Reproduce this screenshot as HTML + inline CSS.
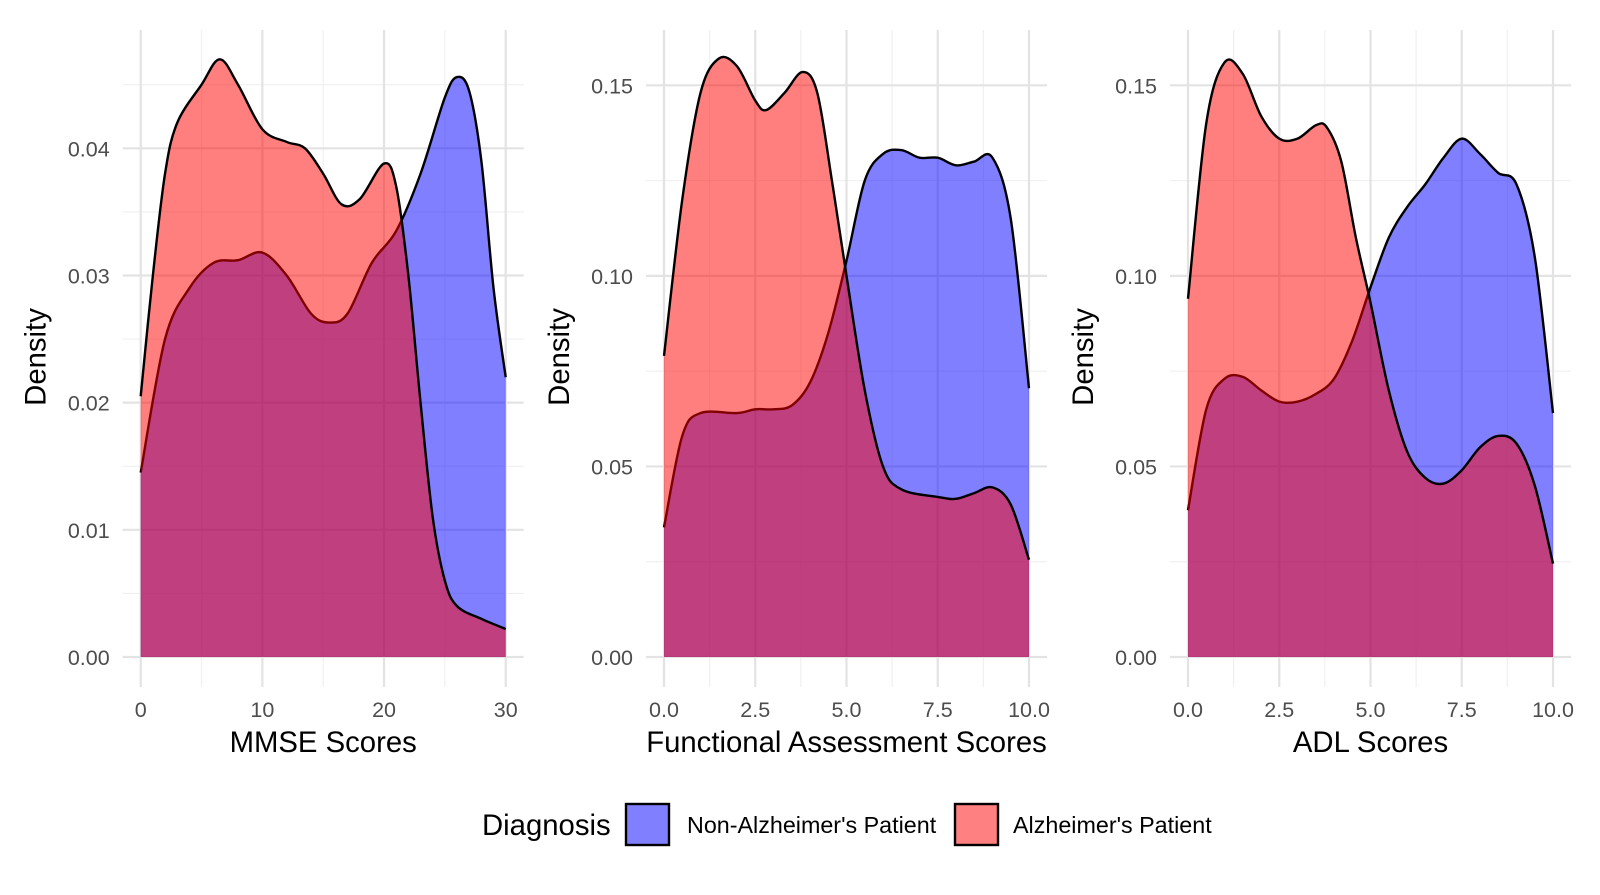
<!DOCTYPE html>
<html><head><meta charset="utf-8"><style>
html,body{margin:0;padding:0;background:#fff;}
svg text{font-family:"Liberation Sans",Arial,sans-serif;}
</style></head><body>
<svg id="chart" width="1600" height="890" xmlns="http://www.w3.org/2000/svg"></svg>
<script>
// Panel 1: MMSE
const mmseX_blue=[0,2,4,6,8,10,12,14,15.5,17,19,21,23,25,26,27,28,29,30];
const mmseY_blue=[0.0145,0.025,0.029,0.031,0.0312,0.0318,0.030,0.027,0.0263,0.027,0.031,0.0335,0.038,0.044,0.0456,0.0445,0.039,0.029,0.022];
const mmseX_red=[0,1,2,3,5,6.5,8,10,12,13.5,15,16.5,18,20,21,22,23,24,25,26,28,30];
const mmseY_red=[0.0205,0.030,0.038,0.042,0.045,0.047,0.045,0.0415,0.0405,0.040,0.038,0.0356,0.036,0.0388,0.037,0.030,0.020,0.011,0.006,0.004,0.003,0.0022];
// Panel 2: Functional Assessment
const faX_red=[0,0.5,1,1.5,2,2.5,2.8,3.3,3.8,4.2,4.6,5,5.5,6,6.5,7.5,8,8.5,9,9.5,10];
const faY_red=[0.079,0.12,0.148,0.157,0.155,0.146,0.1435,0.148,0.1535,0.148,0.125,0.10,0.07,0.05,0.044,0.042,0.0415,0.043,0.0445,0.04,0.0255];
const faX_blue=[0,0.5,1,2,2.5,3,3.5,4,4.5,5,5.5,6,6.5,7,7.5,8,8.5,9,9.5,10];
const faY_blue=[0.034,0.058,0.064,0.064,0.065,0.065,0.066,0.072,0.085,0.104,0.125,0.132,0.133,0.131,0.131,0.129,0.130,0.131,0.115,0.0705];
// Panel 3: ADL
const adlX_red=[0,0.5,1,1.5,2,2.5,3,3.5,3.8,4.2,4.6,5,5.5,6,6.5,7,7.5,8,8.5,9,9.5,10];
const adlY_red=[0.094,0.14,0.156,0.153,0.142,0.136,0.136,0.1395,0.139,0.13,0.11,0.093,0.07,0.054,0.047,0.0455,0.049,0.055,0.058,0.056,0.045,0.0245];
const adlX_blue=[0,0.5,1,1.5,2,2.5,3,3.5,4,4.5,5,5.5,6,6.5,7,7.5,8,8.5,9,9.5,10];
const adlY_blue=[0.0385,0.065,0.073,0.0735,0.07,0.067,0.067,0.069,0.073,0.083,0.097,0.11,0.118,0.124,0.131,0.136,0.132,0.127,0.124,0.105,0.064];

const mmseXTicks=[0,10,20,30], mmseYTicks=[0,0.01,0.02,0.03,0.04];
const mmseYLabels=["0.00","0.01","0.02","0.03","0.04"];
const tenXTicks=[0,2.5,5,7.5,10], tenXLabels=["0.0","2.5","5.0","7.5","10.0"];
const tenYTicks=[0,0.05,0.10,0.15], tenYLabels=["0.00","0.05","0.10","0.15"];

const NS="http://www.w3.org/2000/svg";
const svg=document.getElementById('chart');
const Y0=657;
function mk(tag,attrs,parent){const e=document.createElementNS(NS,tag);for(const k in attrs)e.setAttribute(k,attrs[k]);(parent||svg).appendChild(e);return e;}

function smooth(pts){
  let d=`M${pts[0][0]},${pts[0][1]}`;
  for(let i=0;i<pts.length-1;i++){
    const p0=pts[Math.max(0,i-1)],p1=pts[i],p2=pts[i+1],p3=pts[Math.min(pts.length-1,i+2)];
    const c1=[p1[0]+(p2[0]-p0[0])/6,p1[1]+(p2[1]-p0[1])/6];
    const c2=[p2[0]-(p3[0]-p1[0])/6,p2[1]-(p3[1]-p1[1])/6];
    d+=` C${c1[0]},${c1[1]} ${c2[0]},${c2[1]} ${p2[0]},${p2[1]}`;
  }
  return d;
}

function panel(cfg){
  const g=mk('g',{});
  
  
  const sx=v=>cfg.px0+(v-cfg.xmin)/(cfg.xmax-cfg.xmin)*(cfg.px1-cfg.px0);
  const sy=v=>Y0-v/cfg.ymaxv*(Y0-cfg.pyTop);
  const L=cfg.px0-18,R=cfg.px1+18,T=30,B=687;
  for(let i=0;i<cfg.xt.length-1;i++){const x=sx((cfg.xt[i]+cfg.xt[i+1])/2);mk('line',{x1:x,x2:x,y1:T,y2:B,stroke:'#f0f0f0','stroke-width':1.2},g);}
  const ystep=cfg.yt[1]-cfg.yt[0];
  for(let i=0;i<cfg.yt.length;i++){const v=cfg.yt[i]+ystep/2;const y=sy(v);if(y>T)mk('line',{x1:L,x2:R,y1:y,y2:y,stroke:'#f0f0f0','stroke-width':1.2},g);}
  cfg.xt.forEach(v=>{const x=sx(v);mk('line',{x1:x,x2:x,y1:T,y2:B,stroke:'#e3e3e3','stroke-width':2.2},g);});
  cfg.yt.forEach(v=>{const y=sy(v);mk('line',{x1:L,x2:R,y1:y,y2:y,stroke:'#e3e3e3','stroke-width':2.2},g);});
  cfg.xt.forEach((v,i)=>{const t=mk('text',{x:sx(v),y:717,'text-anchor':'middle','font-size':21.5,fill:'#4d4d4d'},g);t.textContent=cfg.xl[i];
    });
  cfg.yt.forEach((v,i)=>{const t=mk('text',{x:cfg.px0-31,y:sy(v)+8,'text-anchor':'end','font-size':21.5,fill:'#4d4d4d'},g);t.textContent=cfg.yl[i];
    });
  const xt=mk('text',{x:(cfg.px0+cfg.px1)/2,y:752,'text-anchor':'middle','font-size':29.3,fill:'#000'},g);xt.textContent=cfg.xtitle;
  
  const yt=mk('text',{x:0,y:0,'text-anchor':'middle','font-size':29.3,fill:'#000',transform:`translate(${cfg.px0-95},357) rotate(-90)`},g);yt.textContent='Density';
  
  [[cfg.bx,cfg.by,'#0000ff','non-alzheimers-density'],[cfg.rx,cfg.ry,'#ff0000','alzheimers-density']].forEach(([xs,ys,c,n])=>{
    const pts=xs.map((x,i)=>[sx(x),sy(ys[i])]);
    const line=smooth(pts);
    const a=mk('path',{d:line+` L${pts[pts.length-1][0]},${Y0} L${pts[0][0]},${Y0} Z`,fill:c,'fill-opacity':0.5,stroke:'none'},g);
    
    const l=mk('path',{d:line,fill:'none',stroke:'#000','stroke-width':2.4},g);
    
  });
}
panel({name:'mmse-panel',px0:140.7,px1:505.7,xmin:0,xmax:30,ymaxv:0.04,pyTop:148.3,xt:mmseXTicks,xl:mmseXTicks.map(String),yt:mmseYTicks,yl:mmseYLabels,xtitle:'MMSE Scores',bx:mmseX_blue,by:mmseY_blue,rx:mmseX_red,ry:mmseY_red});
panel({name:'functional-panel',px0:664,px1:1029,xmin:0,xmax:10,ymaxv:0.15,pyTop:85.3,xt:tenXTicks,xl:tenXLabels,yt:tenYTicks,yl:tenYLabels,xtitle:'Functional Assessment Scores',bx:faX_blue,by:faY_blue,rx:faX_red,ry:faY_red});
panel({name:'adl-panel',px0:1188,px1:1553,xmin:0,xmax:10,ymaxv:0.15,pyTop:85.3,xt:tenXTicks,xl:tenXLabels,yt:tenYTicks,yl:tenYLabels,xtitle:'ADL Scores',bx:adlX_blue,by:adlY_blue,rx:adlX_red,ry:adlY_red});

const lg=mk('g',{});


const lt=mk('text',{x:482,y:835,'font-size':29.3,fill:'#000'},lg);lt.textContent='Diagnosis';

[[626,'#8080ff',"Non-Alzheimer's Patient",687],[955,'#ff8080',"Alzheimer's Patient",1013]].forEach(([x,c,t,tx])=>{
  const r=mk('rect',{x:x,y:804,width:43,height:41,fill:c,stroke:'#000','stroke-width':2.4},lg);
  
  const e=mk('text',{x:tx,y:833,'font-size':23.3,fill:'#000'},lg);e.textContent=t;
  
});
</script>
</body></html>
